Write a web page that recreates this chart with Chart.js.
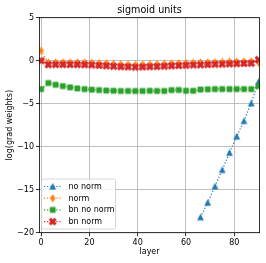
<!DOCTYPE html>
<html>
<head>
<meta charset="utf-8">
<script src="https://cdn.jsdelivr.net/npm/chart.js@4/dist/chart.umd.min.js"></script>
<style>
html,body{margin:0;padding:0;background:#fff;}
#wrap{width:266px;height:263px;position:relative;}
</style>
</head>
<body>
<div id="wrap"><canvas id="c"></canvas></div>
<script>
// ---- data ----
const layers = [0,3,6,9,12,15,18,21,24,27,30,33,36,39,42,45,48,51,54,57,60,63,66,69,72,75,78,81,84,87,90];
const noNorm = [null,null,null,null,null,null,null,null,null,null,null,null,null,null,null,null,null,null,null,null,null,null,
  -18.2,-16.5,-14.6,-12.7,-10.7,-8.8,-7.0,-4.95,-2.45];
const norm = [1.15,-0.22,-0.2,-0.2,-0.2,-0.2,-0.22,-0.25,-0.3,-0.33,-0.38,-0.42,-0.45,-0.48,-0.46,-0.43,-0.4,-0.37,-0.33,-0.3,-0.27,-0.24,-0.22,-0.2,-0.17,-0.15,-0.12,-0.1,-0.08,-0.07,-0.22];
const bnNoNorm = [-3.3,-2.6,-2.8,-2.95,-3.1,-3.22,-3.3,-3.37,-3.42,-3.47,-3.5,-3.52,-3.52,-3.53,-3.52,-3.5,-3.52,-3.52,-3.42,-3.4,-3.5,-3.5,-3.35,-3.32,-3.3,-3.3,-3.3,-3.3,-3.3,-3.3,-2.95];
const bnNorm = [0.0,-0.47,-0.45,-0.45,-0.45,-0.45,-0.47,-0.5,-0.55,-0.6,-0.65,-0.7,-0.72,-0.75,-0.73,-0.7,-0.68,-0.64,-0.6,-0.57,-0.53,-0.5,-0.48,-0.45,-0.42,-0.4,-0.37,-0.35,-0.32,-0.3,0.12];
const seriesNames = ['no norm','norm','bn no norm','bn norm'];
const xTicks = [0,20,40,60,80];
const yTicks = [-20,-15,-10,-5,0,5];
const chartTitle = 'sigmoid units';
const xLabel = 'layer';
const yLabel = 'log(grad weights)';

const colors = ['#1f77b4','#ff7f0e','#2ca02c','#d62728'];
const FONT = '"DejaVu Sans", sans-serif';
const FS = 8;

function makeMarker(type, color){
  const c = document.createElement('canvas');
  c.width = 9; c.height = 9;
  const g = c.getContext('2d');
  g.fillStyle = color; g.strokeStyle = color; g.lineWidth = 0.6;
  g.beginPath();
  if(type==='tri'){
    g.moveTo(4.5,1.5); g.lineTo(1.6,7.3); g.lineTo(7.4,7.3); g.closePath(); g.fill(); g.stroke();
  } else if(type==='dia'){
    g.moveTo(4.5,0.7); g.lineTo(6.8,4.5); g.lineTo(4.5,8.3); g.lineTo(2.2,4.5); g.closePath(); g.fill(); g.stroke();
  } else if(type==='sq'){
    g.rect(1.9,1.9,5.2,5.2); g.fill(); g.stroke();
  } else if(type==='x'){
    g.lineWidth = 2.9; g.lineCap='butt';
    g.moveTo(1.6,1.6); g.lineTo(7.4,7.4); g.moveTo(1.6,7.4); g.lineTo(7.4,1.6); g.stroke();
  }
  return c;
}
const markers = [makeMarker('tri',colors[0]),makeMarker('dia',colors[1]),makeMarker('sq',colors[2]),makeMarker('x',colors[3])];
const allSeries = [noNorm,norm,bnNoNorm,bnNorm];

const datasets = allSeries.map((arr,i)=>({
  label: seriesNames[i],
  data: layers.map((l,j)=>({x:l,y:arr[j]})),
  borderColor: colors[i],
  backgroundColor: colors[i],
  borderWidth: 1.2,
  borderDash: [1.2,1.9],
  pointStyle: markers[i],
  pointRadius: 4,
  pointHoverRadius: 4,
  fill: false,
  tension: 0,
  spanGaps: false,
  clip: 0,
  order: 4-i
}));

const CA = {left:39.5, right:259.6, top:17.7, bottom:232.7};

const decor = {
  id:'decor',
  afterDatasetsDraw(chart){
    const ctx = chart.ctx; const a = chart.chartArea;
    ctx.save();
    ctx.strokeStyle = '#000'; ctx.lineWidth = 0.8;
    ctx.strokeRect(a.left, a.top, a.right-a.left, a.bottom-a.top);
    // title
    ctx.fillStyle = '#000';
    ctx.font = '9.6px ' + FONT;
    ctx.textAlign = 'center'; ctx.textBaseline = 'alphabetic';
    ctx.fillText(chartTitle, (a.left+a.right)/2, 12.8);
    // axis labels
    ctx.font = FS + 'px ' + FONT;
    ctx.textBaseline = 'middle';
    ctx.fillText(xLabel, (a.left+a.right)/2, 252);
    ctx.save();
    ctx.translate(10, (a.top+a.bottom)/2);
    ctx.rotate(-Math.PI/2);
    ctx.fillText(yLabel, 0, 0);
    ctx.restore();
    // legend
    const bx=41.7, by=179, bw=73.8, bh=50, r=2;
    ctx.beginPath();
    ctx.moveTo(bx+r,by); ctx.lineTo(bx+bw-r,by); ctx.quadraticCurveTo(bx+bw,by,bx+bw,by+r);
    ctx.lineTo(bx+bw,by+bh-r); ctx.quadraticCurveTo(bx+bw,by+bh,bx+bw-r,by+bh);
    ctx.lineTo(bx+r,by+bh); ctx.quadraticCurveTo(bx,by+bh,bx,by+bh-r);
    ctx.lineTo(bx,by+r); ctx.quadraticCurveTo(bx,by,bx+r,by); ctx.closePath();
    ctx.fillStyle='rgba(255,255,255,0.8)'; ctx.fill();
    ctx.strokeStyle='#cccccc'; ctx.lineWidth=0.8; ctx.stroke();
    const rows=[186.5,198.2,209.9,221.6];
    seriesNames.forEach((n,i)=>{
      const y=rows[i];
      ctx.beginPath(); ctx.setLineDash([1.2,1.9]); ctx.strokeStyle=colors[i]; ctx.lineWidth=1.2;
      ctx.moveTo(44,y); ctx.lineTo(61.5,y); ctx.stroke(); ctx.setLineDash([]);
      ctx.drawImage(markers[i], 52.75-4.5, y-4.5);
      ctx.fillStyle='#000'; ctx.textAlign='left'; ctx.textBaseline='middle';
      ctx.font=FS + 'px ' + FONT;
      ctx.fillText(n, 68.5, y+0.3);
    });
    ctx.restore();
  }
};

new Chart(document.getElementById('c'), {
  type:'line',
  data:{datasets},
  options:{
    responsive:true, maintainAspectRatio:false, animation:false, devicePixelRatio:1,
    events:[],
    layout:{padding:{left:0, top:CA.top, right:266-CA.right, bottom:0}},
    plugins:{legend:{display:false}, tooltip:{enabled:false}, title:{display:false}},
    scales:{
      x:{
        type:'linear', min:-0.66, max:90.48,
        afterFit(s){ s.height = 263-CA.bottom; },
        afterBuildTicks(s){ s.ticks = xTicks.map(v=>({value:v})); },
        grid:{color:'#b0b0b0', lineWidth:0.8, tickColor:'#000', tickWidth:0.8, tickLength:3.5, drawTicks:true},
        border:{display:false},
        ticks:{color:'#000', font:{family:FONT, size:FS}, padding:2, maxRotation:0, autoSkip:false}
      },
      y:{
        type:'linear', min:-20, max:5,
        afterFit(s){ s.width = CA.left; },
        afterBuildTicks(s){ s.ticks = yTicks.map(v=>({value:v})); },
        grid:{color:'#b0b0b0', lineWidth:0.8, tickColor:'#000', tickWidth:0.8, tickLength:3.5, drawTicks:true},
        border:{display:false},
        ticks:{color:'#000', font:{family:FONT, size:FS}, padding:2,
          callback:(v)=> (v<0? '\u2212'+Math.abs(v) : String(v))}
      }
    }
  },
  plugins:[decor]
});
</script>
</body>
</html>
